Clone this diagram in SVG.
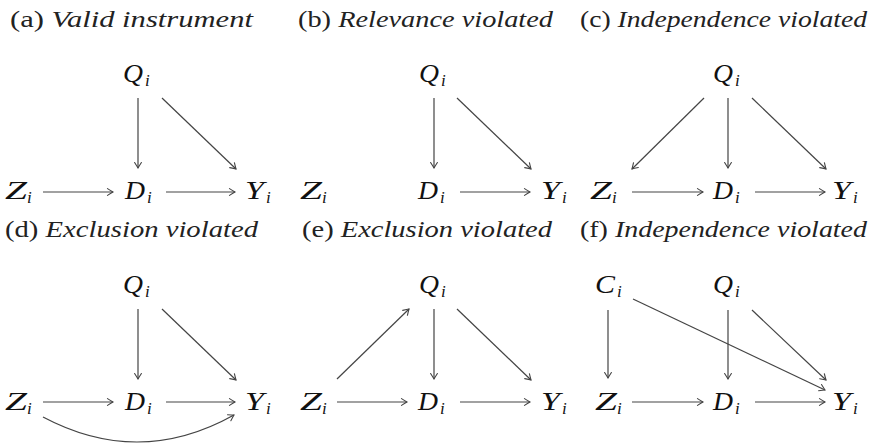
<svg xmlns="http://www.w3.org/2000/svg" width="870" height="443" viewBox="0 0 870 443">
<style>
.t{font-family:"Liberation Serif","DejaVu Serif",serif;font-size:23px;fill:#222}
.it{font-style:italic}
.v{font-family:"Liberation Serif","DejaVu Serif",serif;font-style:italic;font-size:25px;fill:#111}
.s{font-family:"Liberation Serif","DejaVu Serif",serif;font-style:italic;font-size:17px;fill:#111}
.e{fill:none;stroke:#444;stroke-width:1.2;marker-end:url(#ah)}
</style>
<defs>
<marker id="ah" viewBox="-7 -5 8 10" refX="0" refY="0" markerWidth="8" markerHeight="10" markerUnits="userSpaceOnUse" orient="auto">
<path d="M-5.5,-3.4 Q-1.6,-0.9 0,0 Q-1.6,0.9 -5.5,3.4" fill="none" stroke="#444" stroke-width="1.1" stroke-linecap="round"/>
</marker>
</defs>

<g id="titles">
<text class="t" x="10" y="27" textLength="243" lengthAdjust="spacingAndGlyphs">(a) <tspan class="it">Valid instrument</tspan></text>
<text class="t" x="298" y="27" textLength="255" lengthAdjust="spacingAndGlyphs">(b) <tspan class="it">Relevance violated</tspan></text>
<text class="t" x="580" y="27" textLength="287" lengthAdjust="spacingAndGlyphs">(c) <tspan class="it">Independence violated</tspan></text>
<text class="t" x="5" y="237" textLength="253" lengthAdjust="spacingAndGlyphs">(d) <tspan class="it">Exclusion violated</tspan></text>
<text class="t" x="302" y="237" textLength="250" lengthAdjust="spacingAndGlyphs">(e) <tspan class="it">Exclusion violated</tspan></text>
<text class="t" x="580" y="237" textLength="287" lengthAdjust="spacingAndGlyphs">(f) <tspan class="it">Independence violated</tspan></text>
</g>

<!-- panel a -->
<g id="a-Q" transform="translate(123,82)"><text class="v" textLength="20" lengthAdjust="spacingAndGlyphs">Q</text><text class="s" x="22" y="4">i</text></g>
<g id="a-Z" transform="translate(5,199)"><text class="v" textLength="22" lengthAdjust="spacingAndGlyphs">Z</text><text class="s" x="22" y="4">i</text></g>
<g id="a-D" transform="translate(125,199)"><text class="v" textLength="20" lengthAdjust="spacingAndGlyphs">D</text><text class="s" x="22" y="4">i</text></g>
<g id="a-Y" transform="translate(245,199)"><text class="v" textLength="19" lengthAdjust="spacingAndGlyphs">Y</text><text class="s" x="21" y="4">i</text></g>

<!-- panel b -->
<g id="b-Q" transform="translate(419,82)"><text class="v" textLength="20" lengthAdjust="spacingAndGlyphs">Q</text><text class="s" x="22" y="4">i</text></g>
<g id="b-Z" transform="translate(300,199)"><text class="v" textLength="22" lengthAdjust="spacingAndGlyphs">Z</text><text class="s" x="22" y="4">i</text></g>
<g id="b-D" transform="translate(418,199)"><text class="v" textLength="20" lengthAdjust="spacingAndGlyphs">D</text><text class="s" x="22" y="4">i</text></g>
<g id="b-Y" transform="translate(541,199)"><text class="v" textLength="19" lengthAdjust="spacingAndGlyphs">Y</text><text class="s" x="21" y="4">i</text></g>

<!-- panel c -->
<g id="c-Q" transform="translate(713,82)"><text class="v" textLength="20" lengthAdjust="spacingAndGlyphs">Q</text><text class="s" x="22" y="4">i</text></g>
<g id="c-Z" transform="translate(590,199)"><text class="v" textLength="22" lengthAdjust="spacingAndGlyphs">Z</text><text class="s" x="22" y="4">i</text></g>
<g id="c-D" transform="translate(713,199)"><text class="v" textLength="20" lengthAdjust="spacingAndGlyphs">D</text><text class="s" x="22" y="4">i</text></g>
<g id="c-Y" transform="translate(832,199)"><text class="v" textLength="19" lengthAdjust="spacingAndGlyphs">Y</text><text class="s" x="21" y="4">i</text></g>

<!-- panel d -->
<g id="d-Q" transform="translate(123,293)"><text class="v" textLength="20" lengthAdjust="spacingAndGlyphs">Q</text><text class="s" x="22" y="4">i</text></g>
<g id="d-Z" transform="translate(5,410)"><text class="v" textLength="22" lengthAdjust="spacingAndGlyphs">Z</text><text class="s" x="22" y="4">i</text></g>
<g id="d-D" transform="translate(125,410)"><text class="v" textLength="20" lengthAdjust="spacingAndGlyphs">D</text><text class="s" x="22" y="4">i</text></g>
<g id="d-Y" transform="translate(245,410)"><text class="v" textLength="19" lengthAdjust="spacingAndGlyphs">Y</text><text class="s" x="21" y="4">i</text></g>

<!-- panel e -->
<g id="e-Q" transform="translate(419,293)"><text class="v" textLength="20" lengthAdjust="spacingAndGlyphs">Q</text><text class="s" x="22" y="4">i</text></g>
<g id="e-Z" transform="translate(300,410)"><text class="v" textLength="22" lengthAdjust="spacingAndGlyphs">Z</text><text class="s" x="22" y="4">i</text></g>
<g id="e-D" transform="translate(418,410)"><text class="v" textLength="20" lengthAdjust="spacingAndGlyphs">D</text><text class="s" x="22" y="4">i</text></g>
<g id="e-Y" transform="translate(541,410)"><text class="v" textLength="19" lengthAdjust="spacingAndGlyphs">Y</text><text class="s" x="21" y="4">i</text></g>

<!-- panel f -->
<g id="f-C" transform="translate(595,293)"><text class="v" textLength="20" lengthAdjust="spacingAndGlyphs">C</text><text class="s" x="22" y="4">i</text></g>
<g id="f-Q" transform="translate(713,293)"><text class="v" textLength="20" lengthAdjust="spacingAndGlyphs">Q</text><text class="s" x="22" y="4">i</text></g>
<g id="f-Z" transform="translate(595,410)"><text class="v" textLength="22" lengthAdjust="spacingAndGlyphs">Z</text><text class="s" x="22" y="4">i</text></g>
<g id="f-D" transform="translate(713,410)"><text class="v" textLength="20" lengthAdjust="spacingAndGlyphs">D</text><text class="s" x="22" y="4">i</text></g>
<g id="f-Y" transform="translate(832,410)"><text class="v" textLength="19" lengthAdjust="spacingAndGlyphs">Y</text><text class="s" x="21" y="4">i</text></g>

<g id="connectors">
<!-- a -->
<path class="e" d="M138,98 L138,168"/>
<path class="e" d="M162,98 L236,169"/>
<path class="e" d="M43,192 L113,192"/>
<path class="e" d="M166,192 L235,192"/>
<!-- b -->
<path class="e" d="M434,98 L434,168"/>
<path class="e" d="M457,98 L531,169"/>
<path class="e" d="M460,192 L530,192"/>
<!-- c -->
<path class="e" d="M728,98 L728,168"/>
<path class="e" d="M704,98 L632,169"/>
<path class="e" d="M752,98 L826,169"/>
<path class="e" d="M632,192 L703,192"/>
<path class="e" d="M755,192 L825,192"/>
<!-- d -->
<path class="e" d="M138,309 L138,379"/>
<path class="e" d="M162,309 L236,380"/>
<path class="e" d="M43,402 L113,402"/>
<path class="e" d="M166,402 L235,402"/>
<path class="e" d="M43,417 Q139,468 234,415"/>
<!-- e -->
<path class="e" d="M337,379 L409,309"/>
<path class="e" d="M434,309 L434,379"/>
<path class="e" d="M457,309 L531,380"/>
<path class="e" d="M337,402 L407,402"/>
<path class="e" d="M460,402 L530,402"/>
<!-- f -->
<path class="e" d="M608,310 L608,378"/>
<path class="e" d="M728,310 L728,379"/>
<path class="e" d="M752,310 L826,380"/>
<path class="e" d="M633,299 L825,390"/>
<path class="e" d="M632,402 L703,402"/>
<path class="e" d="M755,402 L825,402"/>
</g>
</svg>
